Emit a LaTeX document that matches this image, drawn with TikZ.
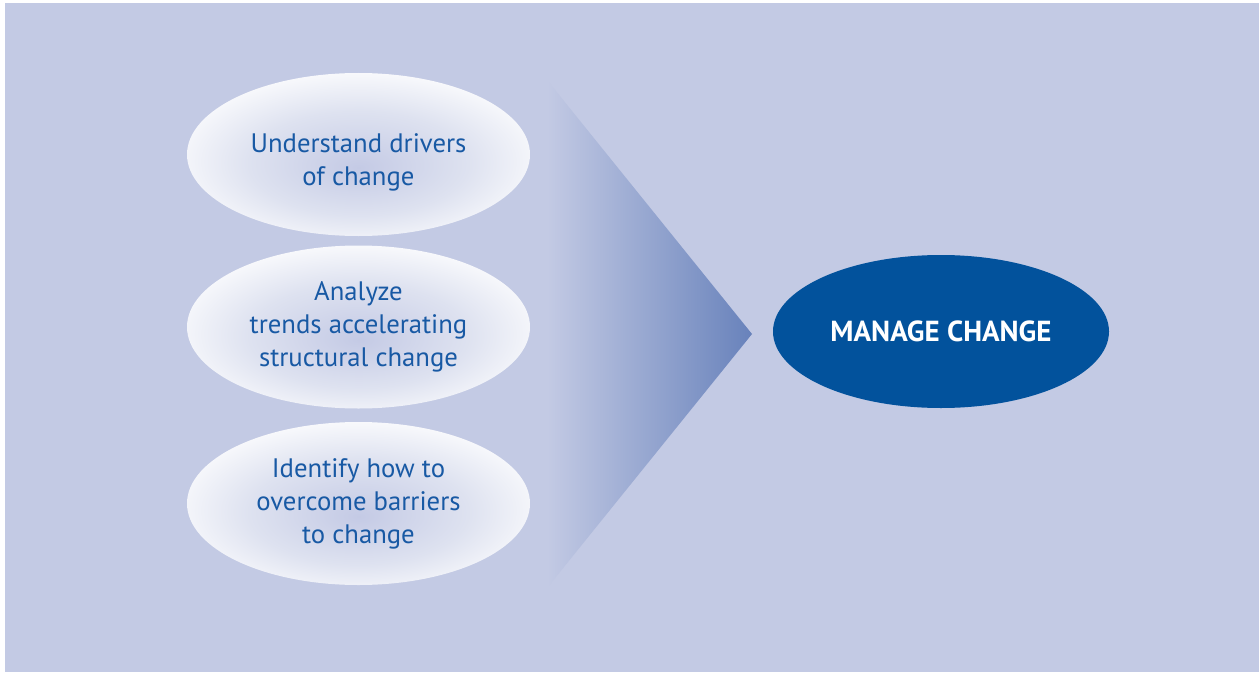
\documentclass[tikz,border=0pt]{standalone}
\usepackage{fontspec}
\setmainfont{PT Sans}
\usetikzlibrary{shapes.geometric}
\definecolor{fond}{HTML}{C3CAE4}
\definecolor{texte}{HTML}{1859A4}
\definecolor{fonce}{HTML}{02529C}
\definecolor{pointe}{HTML}{6882BB}
\definecolor{creux}{HTML}{C4CAE5}
\definecolor{milieu}{HTML}{DEE2F0}
\pgfdeclareradialshading{halo}{\pgfpoint{0bp}{-4bp}}{color(0bp)=(creux); color(16bp)=(milieu); color(29bp)=(white!96!creux); color(50bp)=(white)}
\begin{document}
\begin{tikzpicture}[
  ovale/.style={ellipse, shading=halo, minimum width=6.86cm, minimum height=3.26cm,
    inner sep=0pt, align=center, text=texte, font=\fontsize{15.2}{18.8}\selectfont}]
  \useasboundingbox (0,0) rectangle (25.18,13.44);
  \fill[fond] (0.1,0) rectangle (25.18,13.38);

  \shade[left color=fond, right color=pointe] (10.94,11.84) -- (15.04,6.76) -- (10.94,1.68) -- cycle;

  \node[ovale, text height=1.34cm] (1) at (7.17,10.35) {Understand drivers\\of change}; % texte un peu plus bas
  \node[ovale] (2) at (7.17,6.9) {Analyze\\trends accelerating\\structural change};
  \node[ovale] (3) at (7.17,3.37) {Identify how to\\overcome barriers\\to change};

  \node[ellipse, fill=fonce, minimum width=6.72cm, minimum height=3.06cm, inner sep=0pt,
    text=white, font=\fontsize{16.5}{20}\selectfont\bfseries] (4) at (18.82,6.81) {MANAGE CHANGE};
\end{tikzpicture}
\end{document}
